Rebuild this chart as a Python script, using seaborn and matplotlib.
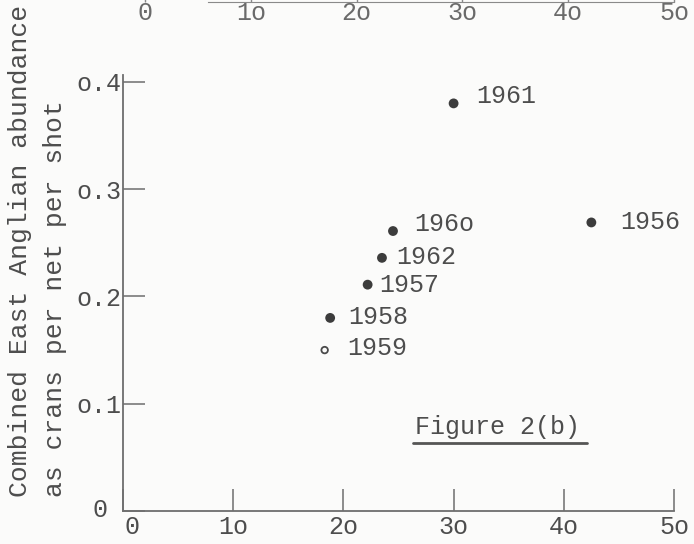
import seaborn as sns
import matplotlib.pyplot as plt
import matplotlib.transforms as mtransforms
import pandas as pd

# values
years = ["1956", "1957", "1958", "1959", "196o", "1961", "1962"]
effort = [42.5, 22.2, 18.8, 18.3, 24.5, 30.0, 23.5]
abundance = [0.269, 0.211, 0.180, 0.150, 0.261, 0.380, 0.236]
x_ticks = [0, 10, 20, 30, 40, 50]
x_labels = ["0", "1o", "2o", "3o", "4o", "5o"]
y_ticks = [0, 0.1, 0.2, 0.3, 0.4]
y_labels = ["0", "o.1", "o.2", "o.3", "o.4"]
# label offsets (points) as typed next to each dot
label_dx = [21, 8.6, 13, 16.5, 15, 16.5, 10]
label_dy = [0, 0, 0.7, 1.4, 5, 5.5, 0.7]

df = pd.DataFrame({"year": years, "effort": effort, "abundance": abundance})
df["open"] = df["year"] == "1959"

sns.set_style("white")
plt.rcParams["font.family"] = ["Liberation Mono", "DejaVu Sans Mono"]
INK = "#4d4d4d"
LINE = "#6e6e6e"

fig = plt.figure(figsize=(6.94, 5.44), dpi=100, facecolor="#fbfbfa")
ax = fig.add_axes([0.1772, 0.0607, 0.794, 0.8015])
ax.set_facecolor("#fbfbfa")

sns.scatterplot(data=df[~df["open"]], x="effort", y="abundance", ax=ax,
                s=50, color="#3c3c3c", edgecolor="none", legend=False)
sns.scatterplot(data=df[df["open"]], x="effort", y="abundance", ax=ax,
                s=22, facecolor="none", edgecolor="#4a4a4a", linewidth=1.3,
                legend=False)

for yr, x, y, dx, dy in zip(years, effort, abundance, label_dx, label_dy):
    ax.annotate(yr, (x, y), xytext=(dx, dy), textcoords="offset points",
                ha="left", va="center", fontsize=18, color=INK)

ax.set_xlim(0, 50)
ax.set_ylim(0, 0.4065)
ax.set_xticks(x_ticks)
ax.set_xticklabels(x_labels)
ax.set_yticks(y_ticks)
ax.set_yticklabels(y_labels)
ax.set_xlabel("")
ax.set_ylabel("")
ax.tick_params(axis="both", direction="in", length=16, width=1.1, color=LINE,
               labelsize=18, labelcolor=INK, bottom=True, left=True)
ax.tick_params(axis="x", pad=3)
ax.tick_params(axis="y", pad=1)
sns.despine(ax=ax)
for side in ["left", "bottom"]:
    ax.spines[side].set_color(LINE)
    ax.spines[side].set_linewidth(1.3)

# the typed zeros sit apart from the corner
shift = mtransforms.ScaledTranslation(-14 / 100, 3 / 100, fig.dpi_scale_trans)
ylab0 = ax.get_yticklabels()[0]
ylab0.set_transform(ylab0.get_transform() + shift)
shift_x = mtransforms.ScaledTranslation(9 / 100, 0, fig.dpi_scale_trans)
xlab0 = ax.get_xticklabels()[0]
xlab0.set_transform(xlab0.get_transform() + shift_x)

ax.text(0.530, 0.193, "Figure 2(b)", transform=ax.transAxes, ha="left",
        va="center", fontsize=18, color=INK)
ax.plot([0.526, 0.842], [0.156, 0.156], transform=ax.transAxes,
        color="#555555", lw=2, clip_on=False)

# bottom edge of the figure above, cut off by the scan
top = fig.add_axes([145 / 694, 1 - 2 / 544, 529 / 694, 0.0001])
top.set_facecolor("none")
top.set_xlim(0, 50)
top.set_ylim(0, 1)
top.set_xticks(x_ticks)
top.set_xticklabels(x_labels)
top.set_yticks([])
for side in ["left", "right", "top"]:
    top.spines[side].set_visible(False)
top.spines["bottom"].set_color("#8a8a8a")
top.spines["bottom"].set_bounds(6, 50)
top.tick_params(axis="x", direction="in", length=6, width=1, color="#8a8a8a",
                labelsize=18, labelcolor="#6a6a6a", pad=-1, bottom=True)

fig.text(20 / 694, 1 - 497 / 544, "Combined East Anglian abundance",
         rotation=90, ha="center", va="bottom", fontsize=19, color=INK)
fig.text(55 / 694, 1 - 497 / 544, "as crans per net per shot",
         rotation=90, ha="center", va="bottom", fontsize=19, color=INK)

fig.savefig("out.png", dpi=100, facecolor=fig.get_facecolor())
